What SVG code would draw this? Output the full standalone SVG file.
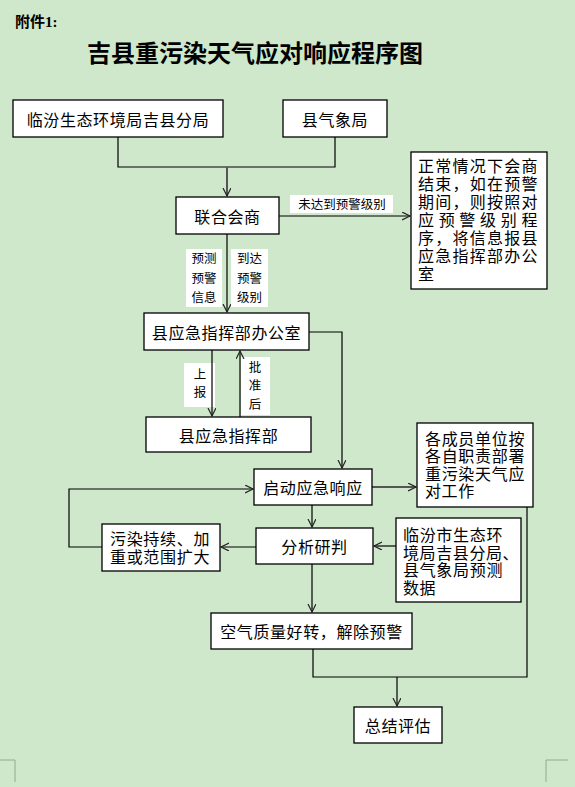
<svg xmlns="http://www.w3.org/2000/svg" width="575" height="787" viewBox="0 0 575 787">
<defs>
<marker id="arr" markerUnits="userSpaceOnUse" markerWidth="10" markerHeight="10" refX="8" refY="4" orient="auto" viewBox="0 0 10 10">
<path d="M0,0 L8,4 L0,8" fill="none" stroke="#222" stroke-width="1.2"/>
</marker>
</defs>
<style>
.box{fill:#fff;stroke:#000;stroke-width:1.3}
.lbl{fill:#fff;stroke:none}
.t{font-family:"Noto Sans CJK SC","Liberation Sans",sans-serif;font-size:16px;fill:#000;letter-spacing:0.6px}
.c{text-anchor:middle;dominant-baseline:central}
.s{font-family:"Noto Sans CJK SC","Liberation Sans",sans-serif;font-size:12.5px;fill:#000;text-anchor:middle}
.ln{fill:none;stroke:#000;stroke-width:1.2}
.ar{fill:none;stroke:#000;stroke-width:1.2;marker-end:url(#arr)}
.ag{fill:none;stroke:#555;stroke-width:2;marker-end:url(#arr)}
.corner{fill:none;stroke:#98a894;stroke-width:1}
</style>
<rect x="0" y="0" width="575" height="787" fill="#cfe7cb"/>
<text x="15" y="27" font-family="'Liberation Serif','Noto Sans CJK SC',serif" font-size="15" font-weight="bold">附件1:</text>
<text x="255" y="54" font-family="'Liberation Serif','Noto Sans CJK SC',serif" font-size="24" font-weight="bold" text-anchor="middle" dominant-baseline="central">吉县重污染天气应对响应程序图</text>
<path class="corner" d="M0,760 H15 V782"/>
<path class="corner" d="M568,760 H546 V782"/>

<g id="labels">
<rect class="lbl" x="290" y="195" width="103" height="18"/>
<text class="s" x="342" y="209">未达到预警级别</text>
<rect class="lbl" x="186" y="249" width="36" height="58"/>
<text class="s"><tspan x="204" y="263">预测</tspan><tspan x="204" y="283">预警</tspan><tspan x="204" y="302">信息</tspan></text>
<rect class="lbl" x="231" y="249" width="37" height="58"/>
<text class="s"><tspan x="249.5" y="263">到达</tspan><tspan x="249.5" y="283">预警</tspan><tspan x="249.5" y="302">级别</tspan></text>
<rect class="lbl" x="184" y="363" width="31" height="44"/>
<text class="s" font-size="13"><tspan x="200" y="379">上</tspan><tspan x="200" y="397">报</tspan></text>
<rect class="lbl" x="241" y="357" width="29" height="58"/>
<text class="s" font-size="13"><tspan x="255" y="372">批</tspan><tspan x="255" y="390">准</tspan><tspan x="255" y="409">后</tspan></text>
</g>

<g id="connectors">
<path class="ln" d="M118,137 V167 H335 V137"/>
<path class="ag" d="M227,167 V196"/>
<path class="ar" d="M279,216 H410"/>
<path class="ar" d="M227,234 V312"/>
<path class="ar" d="M309,332 H342 V468"/>
<path class="ar" d="M212,350 V416"/>
<path class="ar" d="M240,417 V351"/>
<path class="ag" d="M372,487 H416"/>
<path class="ar" d="M312,505 V527"/>
<path class="ar" d="M102,547 H69 V489 H253"/>
<path class="ar" d="M256,547 H221"/>
<path class="ar" d="M396,546 H374"/>
<path class="ar" d="M312,564 V612"/>
<path class="ln" d="M313,649 V677 H527 V507"/>
<path class="ar" d="M397,677 V706"/>
</g>

<g id="n1"><rect class="box" x="13" y="100" width="210" height="37"/><text class="t c" x="118" y="118.5">临汾生态环境局吉县分局</text></g>
<g id="n2"><rect class="box" x="283" y="100" width="104" height="37"/><text class="t c" x="335" y="118.5">县气象局</text></g>
<g id="n3"><rect class="box" x="176" y="197" width="103" height="37"/><text class="t c" x="227.5" y="215.5">联合会商</text></g>
<g id="n4"><rect class="box" x="411" y="152" width="136" height="137"/>
<text class="t"><tspan x="418" y="171.5" textLength="120" lengthAdjust="spacing">正常情况下会商</tspan><tspan x="418" y="189.5" textLength="120" lengthAdjust="spacing">结束，如在预警</tspan><tspan x="418" y="207.5" textLength="120" lengthAdjust="spacing">期间，则按照对</tspan><tspan x="418" y="225.5" textLength="120" lengthAdjust="spacing">应预警级别程</tspan><tspan x="418" y="243.5" textLength="120" lengthAdjust="spacing">序，将信息报县</tspan><tspan x="418" y="261.5" textLength="120" lengthAdjust="spacing">应急指挥部办公</tspan><tspan x="418" y="279.5">室</tspan></text>
</g>
<g id="n5"><rect class="box" x="144" y="313" width="165" height="37"/><text class="t c" x="226.5" y="331.5">县应急指挥部办公室</text></g>
<g id="n6"><rect class="box" x="146" y="417" width="165" height="35"/><text class="t c" x="228.5" y="434.5">县应急指挥部</text></g>
<g id="n7"><rect class="box" x="254" y="469" width="118" height="36"/><text class="t c" x="313" y="487">启动应急响应</text></g>
<g id="n8"><rect class="box" x="417" y="423" width="116" height="84"/>
<text class="t"><tspan x="425" y="444.5" textLength="100" lengthAdjust="spacing">各成员单位按</tspan><tspan x="425" y="462" textLength="100" lengthAdjust="spacing">各自职责部署</tspan><tspan x="425" y="479.5" textLength="100" lengthAdjust="spacing">重污染天气应</tspan><tspan x="425" y="497">对工作</tspan></text>
</g>
<g id="n9"><rect class="box" x="256" y="528" width="117" height="36"/><text class="t c" x="314.5" y="546">分析研判</text></g>
<g id="n10"><rect class="box" x="102" y="524" width="118" height="47"/>
<text class="t"><tspan x="110" y="544.5" textLength="100" lengthAdjust="spacing">污染持续、加</tspan><tspan x="110" y="562.5" textLength="100" lengthAdjust="spacing">重或范围扩大</tspan></text>
</g>
<g id="n11"><rect class="box" x="396" y="518" width="125" height="84"/>
<text class="t"><tspan x="403" y="541" textLength="100" lengthAdjust="spacing">临汾市生态环</tspan><tspan x="403" y="558.5">境局吉县分局、</tspan><tspan x="403" y="576" textLength="100" lengthAdjust="spacing">县气象局预测</tspan><tspan x="403" y="593.5">数据</tspan></text>
</g>
<g id="n12"><rect class="box" x="211" y="613" width="201" height="36"/><text class="t c" x="311.5" y="631">空气质量好转，解除预警</text></g>
<g id="n13"><rect class="box" x="354" y="707" width="88" height="36"/><text class="t c" x="398" y="725">总结评估</text></g>
</svg>
